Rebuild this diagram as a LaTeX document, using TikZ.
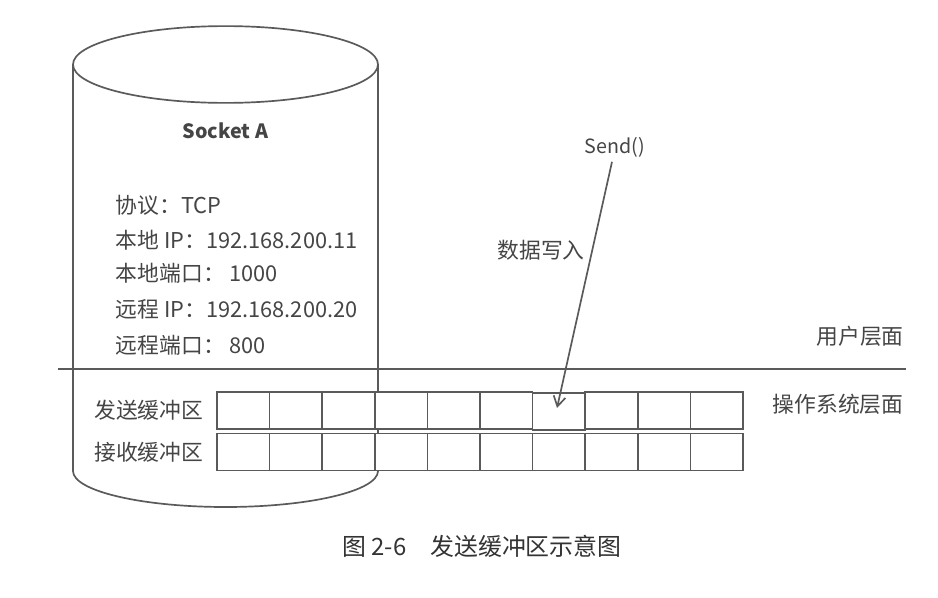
\documentclass[tikz,border=0pt]{standalone}
\usepackage{fontspec}
\setmainfont{Noto Sans CJK SC}
\usepackage{tikz}
\usetikzlibrary{positioning,arrows.meta}
\definecolor{inkgray}{HTML}{454545}
\definecolor{rulegray}{HTML}{5A5A5A}

\begin{document}
\begin{tikzpicture}[x=0.25mm, y=-0.25mm, color=rulegray, line width=1.2pt,
        every node/.style={text=inkgray, inner sep=0pt, font=\fontsize{15.5}{18}\selectfont},
        cell/.style={draw=rulegray, fill=white, minimum width=13.15mm, minimum height=9.25mm},
        layer/.style={font=\fontsize{15.5}{18}\selectfont}]
    \useasboundingbox (0,0) rectangle (938,598);
    \draw[fill=white] (73,64.5) -- (73,471)
        arc[start angle=180, end angle=360, x radius=38.125mm, y radius=9mm] -- (378,64.5);
    \draw (225.5,64.5) ellipse [x radius=38.125mm, y radius=9.6mm];
    \node[font=\bfseries\fontsize{14}{16}\selectfont] (sock) at (225.5,131) {Socket A};
    \node[anchor=west] (proto) at (115,205) {协议：TCP};
    \node[anchor=west] (lip) at (115,240) {本地 IP：192.168.200.11};
    \node[anchor=west] (lport) at (115,273) {本地端口： 1000};
    \node[anchor=west] (rip) at (115,309) {远程 IP：192.168.200.20};
    \node[anchor=west] (rport) at (115,345) {远程端口： 800};
    \draw (58,369) -- (906,369);
    \foreach \i in {1,...,6,8,9,10} {
        \node[cell] (s\i) at ({217+52.6*(\i-0.5)},410.5) {};
    }
    \foreach \i in {1,...,10} {
        \node[cell] (r\i) at ({217+52.6*(\i-0.5)},452) {};
    }
    \node[cell] (s7) at ({217+52.6*6.5},411.5) {};
    \node[left=3mm of s1] (sendbuf) {发送缓冲区};
    \node[left=3mm of r1] (recvbuf) {接收缓冲区};
    \node[layer] (user) at (860,336) {用户层面};
    \node[layer] (os) at (838,404) {操作系统层面};
    \node[font=\fontsize{14}{16}\selectfont] (send) at (615,147) {Send()};
    \node (write) at (541,250) {数据写入};
    \coordinate (tip) at (557,408);
    \draw[-{Straight Barb[length=2.5mm,width=3mm]}] ([xshift=-0.75mm,yshift=-1mm]send.south) -- (tip);
    \node[text=black!80, font=\fontsize{17}{20}\selectfont] (cap) at (482,546) {图 2-6　发送缓冲区示意图};
\end{tikzpicture}
\end{document}
